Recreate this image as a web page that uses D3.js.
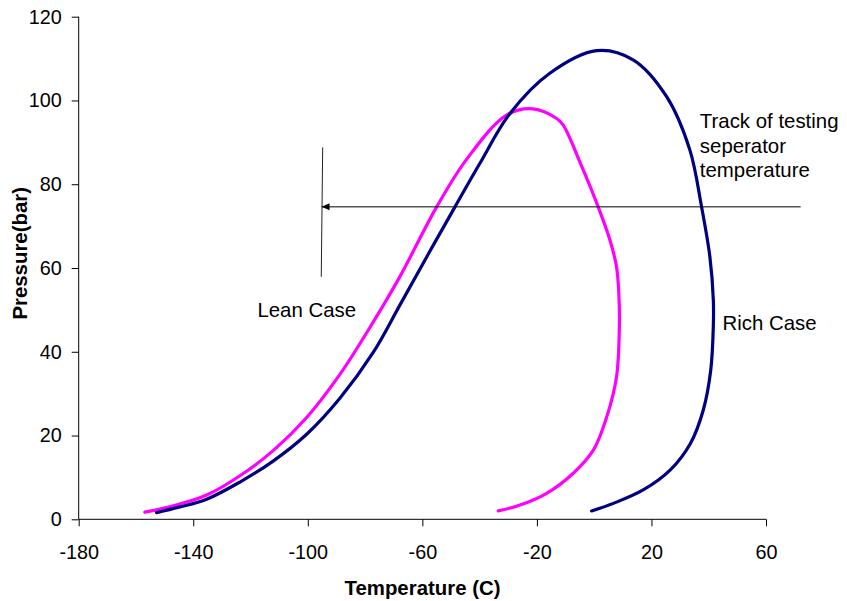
<!DOCTYPE html>
<html>
<head>
<meta charset="utf-8">
<script src="https://cdn.jsdelivr.net/npm/d3@7"></script>
<style>
  html, body { margin: 0; padding: 0; background: #fff; }
  svg { display: block; font-family: Arial, "Liberation Sans", sans-serif; }
</style>
</head>
<body>
<svg id="chart" width="847" height="601"></svg>
<script>
// Phase envelopes: temperature (C) vs pressure (bar)
const richCase = [
  [-152.8, 1.6], [-145.0, 2.9], [-135.3, 4.8], [-123.7, 8.9], [-112.1, 13.9], [-100.4, 20.3],
  [-88.8, 28.9], [-77.1, 39.9], [-67.8, 51.2], [-58.2, 63.0], [-48.6, 74.6],
  [-39.9, 85.0], [-29.4, 96.9], [-15.5, 106.5], [0.9, 111.9], [13.6, 109.7],
  [25.3, 100.9], [33.4, 88.2], [37.5, 74.6], [40.4, 62.7], [41.6, 52.5],
  [41.6, 46.0], [40.7, 35.6], [38.1, 26.1], [33.6, 18.1], [26.6, 11.8],
  [17.1, 7.0], [6.7, 3.8], [-0.9, 2.0]
];
const leanCase = [
  [-156.9, 1.7], [-146.0, 3.4], [-135.3, 5.8], [-123.7, 10.4], [-112.1, 16.4], [-100.4, 24.3],
  [-88.8, 34.6], [-77.6, 46.6], [-67.8, 58.0], [-55.0, 74.6], [-44.5, 86.0],
  [-30.6, 96.5], [-21.3, 98.0], [-13.1, 95.7], [-10.8, 94.1], [-4.8, 85.0],
  [1.4, 74.6], [5.5, 66.7], [7.8, 60.3], [8.6, 54.0], [8.8, 46.0],
  [7.8, 34.0], [4.4, 24.5], [-0.3, 16.5], [-7.3, 11.0], [-16.6, 6.2],
  [-25.9, 3.4], [-33.5, 2.0]
];
const xTicks = [-180, -140, -100, -60, -20, 20, 60];
const yTicks = [0, 20, 40, 60, 80, 100, 120];

// Separator temperature track and its marker
const trackLine = [[72.1, 74.6], [-95.2, 74.6]];
const markerLine = [[-94.8, 88.8], [-95.3, 57.9]];
const labels = [
  { text: "Lean Case", at: [-117.6, 48.4] },
  { text: "Rich Case", at: [44.8, 45.3] }
];
const trackLabel = { lines: ["Track of testing", "seperator", "temperature"], at: [36.9, 93.4] };

const svg = d3.select("#chart");
const x = d3.scaleLinear().domain([-180, 60]).range([78.7, 766]);
const y = d3.scaleLinear().domain([0, 120]).range([519.3, 16.7]);

const tickFont = 19.8;
const labelFont = 20.4;

// Axes
const gx = svg.append("g")
  .attr("transform", `translate(0,${y(0)})`)
  .call(d3.axisBottom(x).tickValues(xTicks).tickSize(7).tickSizeOuter(0).tickPadding(19).tickFormat(d3.format("d")));
const gy = svg.append("g")
  .attr("transform", `translate(${x(-180)},0)`)
  .call(d3.axisLeft(y).tickValues(yTicks).tickSize(7).tickSizeOuter(0).tickPadding(10).tickFormat(d3.format("d")));

[gx, gy].forEach(g => {
  g.selectAll("path.domain, line").attr("stroke", "#000").attr("stroke-width", 1);
  g.selectAll("text").attr("font-size", tickFont).attr("fill", "#000")
    .attr("font-family", "Arial, 'Liberation Sans', sans-serif");
});
gx.select("path.domain").attr("d", `M${x(-180)},0H${x(60)}`);
gy.select("path.domain").attr("d", `M0,${y(120)}V${y(0)}`);
// Keep minus signs as plain hyphens
gx.selectAll("text").text(d => String(d));

// Axis titles
svg.append("text")
  .attr("x", 422.5).attr("y", 595)
  .attr("text-anchor", "middle")
  .attr("font-size", 20.4).attr("font-weight", "bold")
  .text("Temperature (C)");
svg.append("text")
  .attr("transform", `translate(26.5,253.3) rotate(-90)`)
  .attr("text-anchor", "middle")
  .attr("font-size", 20.4).attr("font-weight", "bold")
  .text("Pressure(bar)");

// Envelope curves
const line = d3.line().x(d => x(d[0])).y(d => y(d[1])).curve(d3.curveCatmullRom.alpha(0.5));
svg.append("path").datum(leanCase)
  .attr("d", line).attr("fill", "none")
  .attr("stroke", "#ff00ff").attr("stroke-width", 3.2)
  .attr("stroke-linecap", "round").attr("stroke-linejoin", "round");
svg.append("path").datum(richCase)
  .attr("d", line).attr("fill", "none")
  .attr("stroke", "#000080").attr("stroke-width", 3.2)
  .attr("stroke-linecap", "round").attr("stroke-linejoin", "round");

// Track arrow
const straight = d3.line().x(d => x(d[0])).y(d => y(d[1]));
svg.append("path").datum(trackLine)
  .attr("d", straight).attr("stroke", "#000").attr("stroke-width", 1).attr("fill", "none");
const tip = [x(trackLine[1][0]), y(trackLine[1][1])];
svg.append("path")
  .attr("d", `M${tip[0]},${tip[1]}L${tip[0] + 8},${tip[1] - 3.5}L${tip[0] + 8},${tip[1] + 3.5}Z`)
  .attr("fill", "#000");
svg.append("path").datum(markerLine)
  .attr("d", straight).attr("stroke", "#222").attr("stroke-width", 1).attr("fill", "none");

// Labels
svg.selectAll("text.case").data(labels).enter().append("text")
  .attr("class", "case")
  .attr("x", d => x(d.at[0])).attr("y", d => y(d.at[1]))
  .attr("font-size", labelFont).attr("fill", "#000")
  .text(d => d.text);
const tl = svg.append("text")
  .attr("x", x(trackLabel.at[0])).attr("y", y(trackLabel.at[1]))
  .attr("font-size", labelFont).attr("fill", "#000");
tl.selectAll("tspan").data(trackLabel.lines).enter().append("tspan")
  .attr("x", x(trackLabel.at[0]))
  .attr("dy", (d, i) => i === 0 ? 0 : 24.5)
  .text(d => d);
</script>
</body>
</html>
